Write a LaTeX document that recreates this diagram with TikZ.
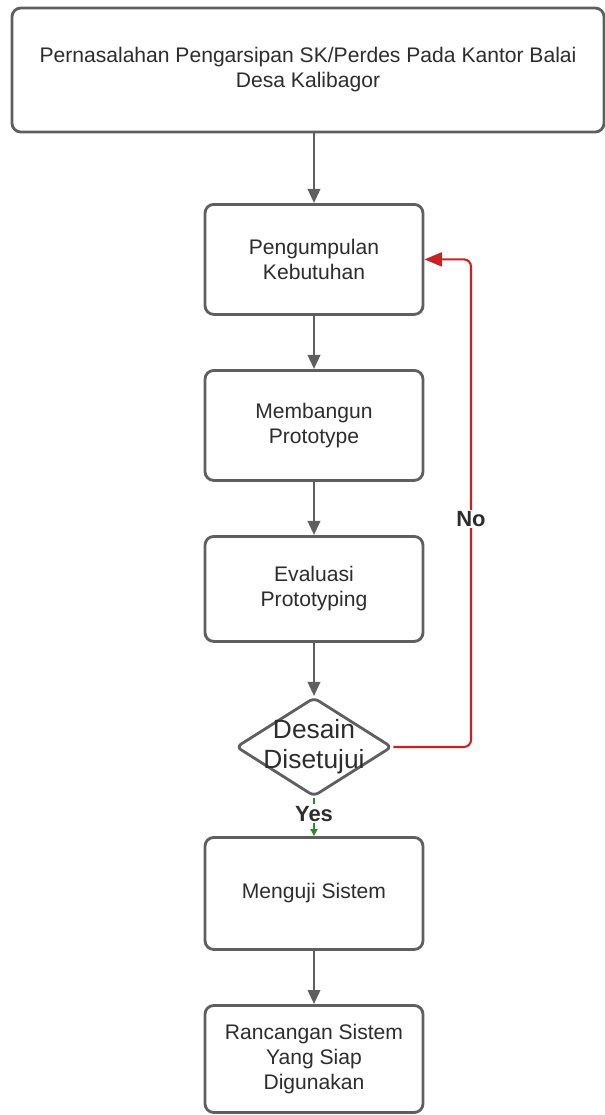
\documentclass[tikz,border=0pt]{standalone}
\usepackage{fontspec}
\setmainfont{Liberation Sans}
\usepackage{xcolor}
\usepackage{tikz}
\usetikzlibrary{positioning, shapes.geometric, arrows.meta, calc}

\definecolor{linegray}{RGB}{95,95,95}
\definecolor{textgray}{RGB}{45,45,45}
\definecolor{nored}{RGB}{200,35,35}
\definecolor{yesgreen}{RGB}{40,140,40}

\begin{document}
\begin{tikzpicture}[
    node distance=1.064cm,
    box/.style={rectangle, draw=linegray, line width=1.6pt, rounded corners=5pt, minimum width=4.36cm, minimum height=2.2cm, align=center, fill=white, text=textgray, font=\fontsize{12}{14.2}\selectfont},
    decision/.style={diamond, draw=linegray, line width=1.6pt, rounded corners=3pt, minimum width=3.12cm, minimum height=1.98cm, inner sep=0pt, fill=white},
    arrow/.style={-{Triangle[length=8pt, width=7pt]}, draw=linegray, line width=1.5pt},
    loopback/.style={-{Triangle[length=10pt, width=8pt]}, draw=nored, line width=1.2pt, rounded corners=4pt},
    branch/.style={font=\bfseries\fontsize{12.5}{14}\selectfont, text=textgray, fill=white, inner sep=1pt}
]
    \useasboundingbox (0,0) rectangle (12.1,-22.3);

    \node[box, minimum width=11.84cm, minimum height=2.48cm] (problem) at (6.16,-1.4) {Pernasalahan Pengarsipan SK/Perdes Pada Kantor Balai\\Desa Kalibagor};
    \node[box, anchor=north] (needs) at (6.28,-4.06) {Pengumpulan\\Kebutuhan};
    \node[box, below=of needs] (build) {Membangun\\Prototype};
    \node[box, below=of build, minimum height=2.1cm] (evaluate) {Evaluasi\\Prototyping};
    \node[decision, below=of evaluate] (approved) {};
    \node[text=textgray, align=center, font=\fontsize{15}{17.2}\selectfont] (approvedtext) at (approved) {Desain\\Disetujui};
    \node[box, below=0.764cm of approved, minimum height=2.24cm] (test) {Menguji Sistem};
    \node[box, below=of test, minimum height=2.14cm] (ready) {Rancangan Sistem\\Yang Siap\\Digunakan};

    \coordinate (turn) at (9.42,0);

    \draw[arrow] (problem.south -| needs.north) -- (needs);
    \draw[arrow] (needs) -- (build);
    \draw[arrow] (build) -- (evaluate);
    \draw[arrow] (evaluate) -- (approved);
    \draw[arrow] (test) -- (ready);

    \draw[loopback] (approved.east) -- (approved.east -| turn) -- (needs.east -| turn) -- (needs.east);
    \node[branch] (no) at (9.42,-10.38) {No};

    \draw[-{Triangle[length=4pt, width=4pt]}, draw=yesgreen, line width=1.2pt] (approved.south) -- (test.north);
    \node[branch] (yes) at ($(approved.south)!0.42!(test.north)$) {Yes};
\end{tikzpicture}
\end{document}
